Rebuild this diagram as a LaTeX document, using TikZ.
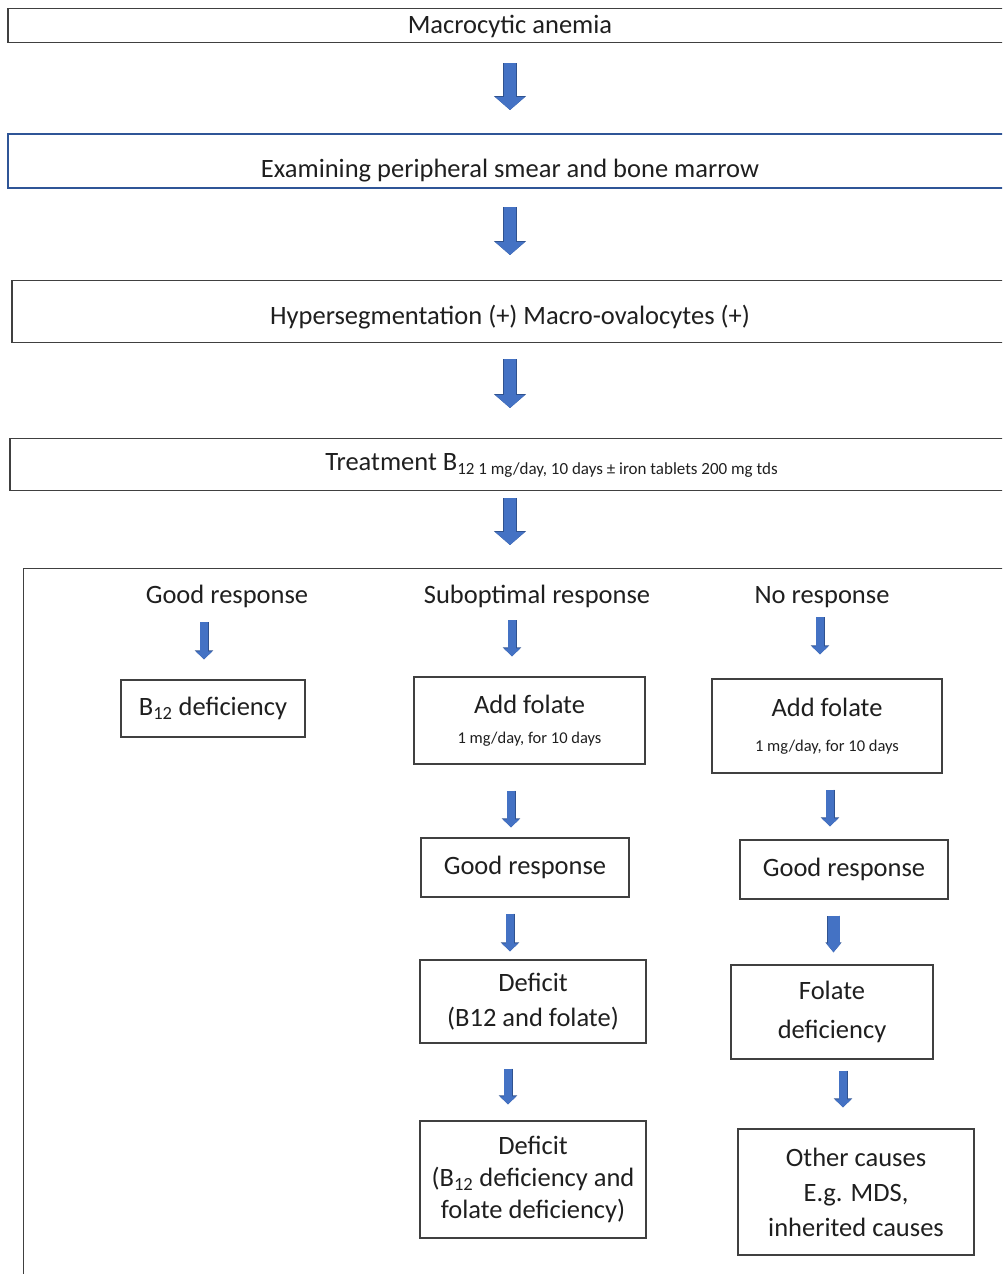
\documentclass[tikz,border=0pt]{standalone}
\usepackage{fontspec}
\setmainfont{Carlito}
\usetikzlibrary{arrows.meta,positioning}
\definecolor{Ink}{HTML}{1F1F1F}
\definecolor{Frame}{HTML}{404040}
\definecolor{BlueLine}{HTML}{2F5597}
\definecolor{ArrowFill}{HTML}{4472C4}
\definecolor{ArrowEdge}{HTML}{2F528F}
\tikzset{
  wide/.style={draw=Frame,line width=1.4pt,inner sep=0pt,anchor=north,text=Ink,font=\fontsize{26.5}{31}\selectfont},
  box/.style={draw=Frame,line width=1.3pt,inner sep=0pt,align=center,text=Ink,font=\fontsize{26.5}{31}\selectfont},
  head/.style={inner sep=0pt,text height=18pt,text depth=6pt,text=Ink,font=\fontsize{26.5}{31}\selectfont},
  panel/.style={draw=Frame,line width=1.3pt,inner sep=0pt,anchor=north west},
  bigarr/.style={draw=ArrowFill,line width=12pt,-{Triangle[width=29pt,length=13pt]},
    preaction={draw=ArrowEdge,line width=13.6pt,-{Triangle[width=31.5pt,length=14pt]}}},
  smallarr/.style={draw=ArrowFill,line width=7.5pt,-{Triangle[width=16pt,length=8pt]},
    preaction={draw=ArrowEdge,line width=9pt,-{Triangle[width=18pt,length=9pt]}}},
  stubarr/.style={draw=ArrowFill,line width=12pt,-{Triangle[width=14pt,length=9pt]},
    preaction={draw=ArrowEdge,line width=13.5pt,-{Triangle[width=15.5pt,length=10pt]}}}
}
\begin{document}
\begin{tikzpicture}[x=1pt,y=-1pt]
  \useasboundingbox (0,0) rectangle (1002,1274);
  \clip (0,0) rectangle (1002,1274);

  \node[wide,minimum width=1004pt,text height=25pt,text depth=9pt] (anemia) at (510,8) {Macrocytic anemia};
  \node[wide,draw=BlueLine,line width=2.4pt,minimum width=1004pt,text height=43.5pt,text depth=10.5pt] (smear) at (510,133) {Examining peripheral smear and bone marrow};
  \node[wide,minimum width=996pt,text height=43.5pt,text depth=18.5pt] (hyper) at (510,280) {Hypersegmentation (+) Macro-ovalocytes (+)};
  \node[wide,minimum width=1000pt,text height=32pt,text depth=20pt] (treat) at (510,438) {\hspace*{83pt}Treatment B\raisebox{-4pt}{\fontsize{17}{19}\selectfont 12 1 mg/day, 10 days ± iron tablets 200 mg tds}};

  \draw[bigarr] ([yshift=-20pt]anemia.south) -- ([yshift=23pt]smear.north);
  \draw[bigarr] ([yshift=-18pt]smear.south) -- ([yshift=25pt]hyper.north);
  \draw[bigarr] ([yshift=-16pt]hyper.south) -- ([yshift=30pt]hyper.south |- treat.north);

  \node[panel,minimum width=1000pt,minimum height=720pt] (panel) at (23,568) {};
  \draw[bigarr] ([yshift=-7pt]treat.south) -- ([yshift=23pt]treat.south |- panel.north);

  \node[head] (gr) at (227,597) {Good response};
  \node[head] (sr) at (537,597) {Suboptimal response};
  \node[head] (nr) at (822,597) {No response};

  \node[box,minimum width=184pt,minimum height=57pt] (b12) at (213,708.5) {B\textsubscript{12} deficiency};
  \node[box,minimum width=231pt,minimum height=87pt] (addf1) at (529.5,720.5) {Add folate\\[-1pt]{\fontsize{16.5}{19}\selectfont 1 mg/day, for 10 days}};
  \node[box,minimum width=230pt,minimum height=94pt] (addf2) at (827,726) {Add folate\\[4pt]{\fontsize{16.5}{19}\selectfont 1 mg/day, for 10 days}};
  \node[box,minimum width=208pt,minimum height=59pt] (good1) at (525,867.5) {Good response};
  \node[box,minimum width=208pt,minimum height=59pt] (good2) at (844,869.5) {Good response};
  \node[box,minimum width=226pt,minimum height=83pt,font=\fontsize{26.5}{35}\selectfont] (def1) at (533,1001.5) {Deficit\\(B12 and folate)};
  \node[box,minimum width=202pt,minimum height=94pt,font=\fontsize{26.5}{39}\selectfont] (foldef) at (832,1012) {Folate\\deficiency};
  \node[box,minimum width=226pt,minimum height=117pt,font=\fontsize{26.5}{32}\selectfont] (def2) at (533,1179.5) {Deficit\\(B\textsubscript{12} deficiency and\\folate deficiency)};
  \node[box,minimum width=236pt,minimum height=126pt,font=\fontsize{26.5}{35}\selectfont] (other) at (856,1192) {Other causes\\E.g. MDS,\\inherited causes};

  \draw[smallarr] ([xshift=-23pt,yshift=-13pt]gr.south) -- ([xshift=-9pt,yshift=20pt]b12.north);
  \draw[smallarr] ([xshift=-25pt,yshift=-11pt]sr.south) -- ([xshift=-17.5pt,yshift=20pt]addf1.north);
  \draw[smallarr] ([xshift=-2pt,yshift=-8pt]nr.south) -- ([xshift=-7pt,yshift=24pt]addf2.north);
  \draw[smallarr] ([xshift=-18.5pt,yshift=-26pt]addf1.south) -- ([xshift=-14pt,yshift=10pt]good1.north);
  \draw[smallarr] ([xshift=3pt,yshift=-16pt]addf2.south) -- ([xshift=-14pt,yshift=13pt]good2.north);
  \draw[smallarr] ([xshift=-15pt,yshift=-16pt]good1.south) -- ([xshift=-23pt,yshift=8pt]def1.north);
  \draw[stubarr] ([xshift=-10.5pt,yshift=-16pt]good2.south) -- ([xshift=1.5pt,yshift=12pt]foldef.north);
  \draw[smallarr] ([xshift=-25pt,yshift=-25pt]def1.south) -- ([xshift=-25pt,yshift=16pt]def2.north);
  \draw[smallarr] ([xshift=11pt,yshift=-11pt]foldef.south) -- ([xshift=-13pt,yshift=21pt]other.north);
\end{tikzpicture}
\end{document}
